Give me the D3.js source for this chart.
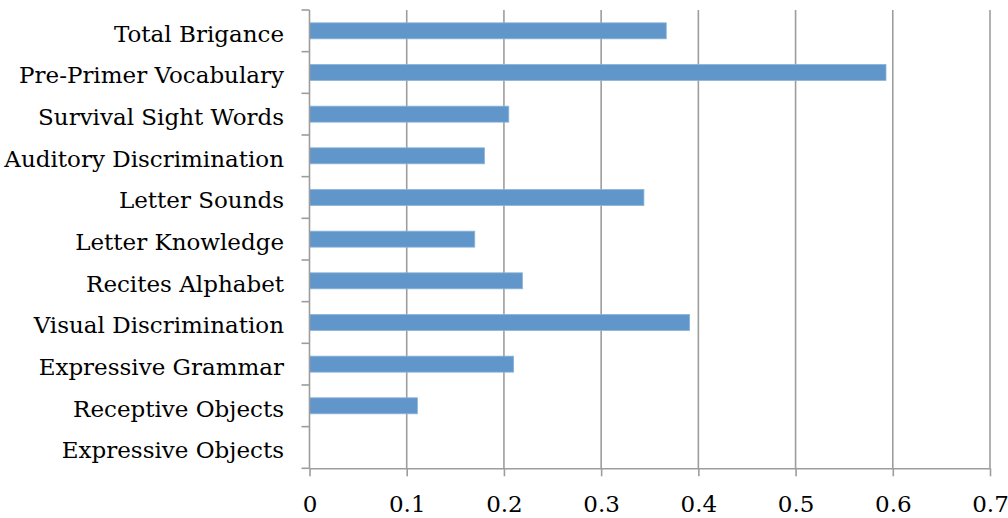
<!DOCTYPE html>
<html>
<head>
<meta charset="utf-8">
<script src="https://cdn.jsdelivr.net/npm/d3@7/dist/d3.min.js"></script>
<style>
  html, body { margin: 0; padding: 0; background: #fff; }
  svg { display: block; }
  text { font-family: "DejaVu Serif", "Liberation Serif", serif; fill: #000; }
</style>
</head>
<body>
<svg id="chart" width="1008" height="518"></svg>
<script>
// Brigance subtest values, listed top to bottom
const categories = [
  "Total Brigance",
  "Pre-Primer Vocabulary",
  "Survival Sight Words",
  "Auditory Discrimination",
  "Letter Sounds",
  "Letter Knowledge",
  "Recites Alphabet",
  "Visual Discrimination",
  "Expressive Grammar",
  "Receptive Objects",
  "Expressive Objects"
];
const values = [0.367, 0.593, 0.205, 0.180, 0.344, 0.170, 0.219, 0.391, 0.210, 0.111, 0];
const xTicks = [0, 0.1, 0.2, 0.3, 0.4, 0.5, 0.6, 0.7];

const svg = d3.select("#chart");
const plotTop = 10, plotBottom = 468.3;

const x = d3.scaleLinear().domain([0, 0.7]).range([309.5, 990]);
const y = d3.scaleBand().domain(categories).range([plotTop, plotBottom]);

const gridColor = "#9d9d9d";
const barH = 16;

// vertical gridlines
svg.append("g")
  .selectAll("line")
  .data(xTicks.slice(1))
  .join("line")
  .attr("x1", d => x(d)).attr("x2", d => x(d))
  .attr("y1", plotTop).attr("y2", plotBottom)
  .attr("stroke", gridColor).attr("stroke-width", 1.6);

// bars
svg.append("g")
  .selectAll("rect")
  .data(categories)
  .join("rect")
  .attr("x", x(0))
  .attr("y", d => y(d) + y.bandwidth() / 2 - barH / 2)
  .attr("height", barH)
  .attr("width", (d, i) => x(values[i]) - x(0))
  .attr("fill", "#6096c9")
  .attr("stroke", "#8bb4da")
  .attr("stroke-width", 0.8);

// bottom axis
const xAxis = d3.axisBottom(x).tickValues(xTicks).tickSize(8).tickSizeOuter(0).tickPadding(19)
  .tickFormat(d => d === 0 ? "0" : d3.format(".1f")(d));
const gx = svg.append("g").attr("transform", `translate(0,${plotBottom})`).call(xAxis);
gx.select(".domain").attr("stroke", gridColor).attr("stroke-width", 1.6);
gx.selectAll(".tick line").attr("stroke", gridColor).attr("stroke-width", 1.6);
gx.selectAll(".tick text").attr("font-size", 23).attr("font-family", "DejaVu Serif").attr("fill", "#000");

// left axis: ticks sit on category boundaries
const boundaries = categories.map(c => y(c)).concat([plotBottom]);
svg.append("line")
  .attr("x1", x(0)).attr("x2", x(0))
  .attr("y1", plotTop).attr("y2", plotBottom)
  .attr("stroke", gridColor).attr("stroke-width", 1.6);
svg.append("g")
  .selectAll("line")
  .data(boundaries)
  .join("line")
  .attr("x1", x(0) - 8).attr("x2", x(0))
  .attr("y1", d => d).attr("y2", d => d)
  .attr("stroke", gridColor).attr("stroke-width", 1.6);

svg.append("g")
  .selectAll("text")
  .data(categories)
  .join("text")
  .attr("x", 284)
  .attr("y", d => y(d) + y.bandwidth() / 2)
  .attr("dy", "0.47em")
  .attr("text-anchor", "end")
  .attr("font-size", 23)
  .text(d => d);
</script>
</body>
</html>
